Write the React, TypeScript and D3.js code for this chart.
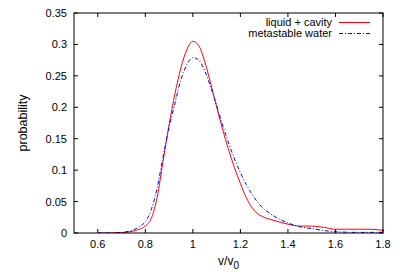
import React from "react";
import * as d3 from "d3";

const xTicks = [0.6, 0.8, 1.0, 1.2, 1.4, 1.6, 1.8];
const xTickLabels = ["0.6", "0.8", "1", "1.2", "1.4", "1.6", "1.8"];
const yTicks = [0, 0.05, 0.1, 0.15, 0.2, 0.25, 0.3, 0.35];
const yTickLabels = ["0", "0.05", "0.1", "0.15", "0.2", "0.25", "0.3", "0.35"];

const seriesNames = ["liquid + cavity", "metastable water"];

const redV = [0.6, 0.65, 0.7, 0.75, 0.775, 0.8, 0.825, 0.85, 0.875, 0.9, 0.925, 0.95, 0.975, 1.0, 1.025, 1.05, 1.075, 1.1, 1.125, 1.15, 1.175, 1.2, 1.225, 1.25, 1.275, 1.3, 1.35, 1.4, 1.45, 1.5, 1.55, 1.6, 1.65, 1.7, 1.75, 1.8];
const redP = [0, 0, 0.0005, 0.003, 0.006, 0.011, 0.023, 0.057, 0.115, 0.172, 0.222, 0.263, 0.292, 0.305, 0.298, 0.273, 0.238, 0.201, 0.165, 0.133, 0.104, 0.079, 0.056, 0.04, 0.03, 0.025, 0.019, 0.014, 0.011, 0.011, 0.009, 0.006, 0.006, 0.006, 0.006, 0.004];

const blueV = [0.6, 0.65, 0.7, 0.75, 0.775, 0.8, 0.825, 0.85, 0.875, 0.9, 0.925, 0.95, 0.975, 1.0, 1.025, 1.05, 1.075, 1.1, 1.125, 1.15, 1.175, 1.2, 1.225, 1.25, 1.275, 1.3, 1.325, 1.35, 1.375, 1.4, 1.45, 1.5, 1.55, 1.6, 1.7, 1.8];
const blueP = [0, 0, 0.001, 0.005, 0.01, 0.018, 0.037, 0.072, 0.122, 0.168, 0.207, 0.244, 0.268, 0.279, 0.275, 0.258, 0.232, 0.203, 0.172, 0.144, 0.118, 0.096, 0.077, 0.061, 0.048, 0.038, 0.031, 0.025, 0.02, 0.016, 0.01, 0.007, 0.004, 0.002, 0.001, 0.001];

export default function App() {
  const W = 400, H = 280;
  const left = 74, right = 383, top = 13, bottom = 233;
  const x = d3.scaleLinear().domain([0.5, 1.8]).range([left, right]);
  const y = d3.scaleLinear().domain([0, 0.35]).range([bottom, top]);
  const line = d3.line<[number, number]>().x(d => x(d[0])).y(d => y(d[1])).curve(d3.curveMonotoneX);
  const redPath = line(redV.map((v, i) => [v, redP[i]]) as [number, number][]) || "";
  const bluePath = line(blueV.map((v, i) => [v, blueP[i]]) as [number, number][]) || "";
  const font = "Liberation Sans, Arial, Helvetica, sans-serif";
  const tl = 4;
  return (
    <svg width={W} height={H} style={{ position: "absolute", left: 0, top: 0, background: "#fff" }} fontFamily={font}>
      <defs>
        <clipPath id="plotclip"><rect x={left} y={top} width={right - left} height={bottom - top} /></clipPath>
      </defs>
      {xTicks.map((t, i) => (
        <g key={"x" + i}>
          <line x1={x(t)} x2={x(t)} y1={bottom} y2={bottom - tl} stroke="#000" />
          <line x1={x(t)} x2={x(t)} y1={top} y2={top + tl} stroke="#000" />
          <text x={x(t)} y={248} fontSize={11} textAnchor="middle">{xTickLabels[i]}</text>
        </g>
      ))}
      {yTicks.map((t, i) => (
        <g key={"y" + i}>
          <line x1={left} x2={left + tl} y1={y(t)} y2={y(t)} stroke="#000" />
          <line x1={right} x2={right - tl} y1={y(t)} y2={y(t)} stroke="#000" />
          <text x={67} y={y(t) + 4} fontSize={11} textAnchor="end">{yTickLabels[i]}</text>
        </g>
      ))}
      <g clipPath="url(#plotclip)">
        <path d={redPath} fill="none" stroke="#ff0000" strokeWidth={1} />
        <path d={bluePath} fill="none" stroke="#0000ff" strokeWidth={1} strokeDasharray="4,2,1,2" />
      </g>
      <rect x={left} y={top} width={right - left} height={bottom - top} fill="none" stroke="#000" strokeWidth={1} />
      <text x={332} y={26} fontSize={11} textAnchor="end">{seriesNames[0]}</text>
      <line x1={339} x2={370} y1={22.5} y2={22.5} stroke="#ff0000" />
      <text x={332} y={37} fontSize={11} textAnchor="end">{seriesNames[1]}</text>
      <line x1={339} x2={370} y1={33.5} y2={33.5} stroke="#0000ff" strokeDasharray="4,2,1,2" />
      <text transform={`translate(27,${(top + bottom) / 2}) rotate(-90)`} fontSize={12.5} textAnchor="middle">probability</text>
      <text x={(left + right) / 2} y={265} fontSize={12} textAnchor="middle">v/v<tspan fontSize={10} dy={4}>0</tspan></text>
    </svg>
  );
}
